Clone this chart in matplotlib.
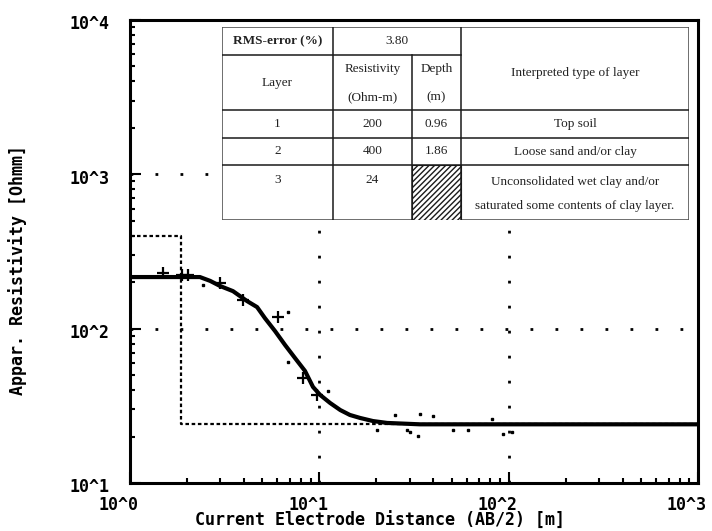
import matplotlib
matplotlib.use("Agg")
import matplotlib.pyplot as plt
from matplotlib.patches import Rectangle

# interpreted layer model (from the table)
layer_res = [200, 400, 24]
layer_depth = [0.96, 1.86]

# calculated sounding curve: AB/2 [m] vs apparent resistivity [Ohm-m]
calc_ab2 = [1.0, 2.34, 2.65, 2.99, 3.50, 4.15, 4.69, 5.16, 5.83, 6.59, 7.44,
            8.40, 9.26, 10.1, 11.4, 12.9, 14.5, 16.4, 19.2, 22.8, 34.0, 100.0, 1000.0]
calc_rho = [216, 216, 204, 189, 175, 151, 138, 117, 96.6, 78.4, 64.5,
            53.2, 41.9, 37.2, 33.0, 29.7, 27.6, 26.4, 25.2, 24.5, 24.0, 24.0, 24.0]

# field measurements
obs_ab2 = [1.49, 1.88, 2.02, 2.99, 3.95, 6.05, 8.20, 9.7]
obs_rho = [229, 223, 223, 198, 153, 119, 47.9, 37.0]

# scattered single readings
dots_ab2 = [2.43, 6.83, 6.83, 11.1, 20.2, 25.1, 29.0, 30.1, 33.2, 34.0,
            39.8, 50.8, 61.0, 81.7, 93.3, 104.0]
dots_rho = [192, 128, 60.8, 39.5, 22.0, 27.6, 22.0, 21.4, 20.2, 27.8,
            27.2, 22.0, 22.0, 26.0, 20.8, 21.4]

x_ticks = [1, 10, 100, 1000]
x_tick_labels = ["10^0", "10^1", "10^2", "10^3"]
y_ticks = [10, 100, 1000, 10000]
y_tick_labels = ["10^1", "10^2", "10^3", "10^4"]

# table contents
rms_label = "RMS-error (%)"
rms_value = "3.80"
layer_ids = ["1", "2", "3"]
layer_desc = ["Top soil", "Loose sand and/or clay",
              "Unconsolidated wet clay and/or\n\nsaturated some contents of clay layer."]

mono = dict(family="DejaVu Sans Mono", weight="bold", size=12)

fig = plt.figure(figsize=(7.12, 5.31), dpi=100)
ax = fig.add_axes([130 / 712, 48 / 531, 568 / 712, 463 / 531])
ax.set_xscale("log")
ax.set_yscale("log")
ax.set_xlim(1, 1000)
ax.set_ylim(10, 10000)

for sp in ax.spines.values():
    sp.set_linewidth(2.2)
ax.tick_params(which="both", direction="in", top=False, right=False,
               labelbottom=False, labelleft=False, width=1.5)
ax.tick_params(which="major", length=8)
ax.tick_params(which="minor", length=3.5)
ax.grid(which="major", ls=(0, (1, 8)), lw=2, color="black")

# model step line
mx = [layer_depth[0], layer_depth[0], layer_depth[1], layer_depth[1], 1000]
my = [layer_res[0], layer_res[1], layer_res[1], layer_res[2], layer_res[2]]
ax.plot(mx, my, color="black", lw=1.6, ls=(0, (1.6, 1.2)))

ax.plot(calc_ab2, calc_rho, color="black", lw=3)
ax.plot(obs_ab2, obs_rho, "+", color="black", ms=9, mew=1.6)
ax.plot(dots_ab2, dots_rho, "s", color="black", ms=2)

for v, t in zip(x_ticks, x_tick_labels):
    ax.annotate(t, xy=(v, 0), xycoords=("data", "axes fraction"),
                xytext=(-8, -15.5), textcoords="offset points",
                ha="center", va="center", **mono)
for v, t in zip(y_ticks, y_tick_labels):
    ax.annotate(t, xy=(0, v), xycoords=("axes fraction", "data"),
                xytext=(-15, -3), textcoords="offset points",
                ha="right", va="center", **mono)

fig.text(380 / 712, 10 / 531, "Current Electrode Distance (AB/2) [m]",
         ha="center", va="center", **mono)
fig.text(18 / 712, 261 / 531, "Appar. Resistivity [Ohmm]",
         ha="center", va="center", rotation=90, **mono)

# interpretation table (pixel layout inside its own axes)
tax = fig.add_axes([222 / 712, (531 - 220) / 531, 467 / 712, 193 / 531])
tax.set_xlim(0, 467)
tax.set_ylim(193, 0)
tax.axis("off")
tax.add_patch(Rectangle((0, 0), 467, 193, facecolor="white", edgecolor="#555555", lw=1.2))
cols = [0, 111, 190, 239, 467]
rows = [0, 28, 83, 111, 138, 193]
lc = "#1a1a1a"
tax.plot([cols[1], cols[1]], [0, 193], color=lc, lw=1.1)
tax.plot([cols[2], cols[2]], [28, 193], color=lc, lw=1.1)
tax.plot([cols[3], cols[3]], [0, 193], color=lc, lw=1.1)
tax.plot([0, cols[3]], [28, 28], color=lc, lw=1.1)
for r in rows[2:5]:
    tax.plot([0, 467], [r, r], color=lc, lw=1.1)
tax.add_patch(Rectangle((cols[2], rows[4]), cols[3] - cols[2], rows[5] - rows[4],
                        facecolor="white", edgecolor=lc, hatch="//////", lw=0.8))

serif = dict(family="Liberation Serif", size=9.5, color="#222222", ha="center", va="center")
c1 = (cols[0] + cols[1]) / 2
c2 = (cols[1] + cols[2]) / 2
c3 = (cols[2] + cols[3]) / 2
c4 = (cols[3] + cols[4]) / 2
tax.text(c1, 14.5, rms_label, weight="bold", **serif)
tax.text((cols[1] + cols[3]) / 2, 14.5, rms_value, **serif)
tax.text(c1, 56, "Layer", **serif)
tax.text(c2, 42, "Resistivity", **serif)
tax.text(c2, 70, "(Ohm-m)", **serif)
tax.text(c3, 42, "Depth", **serif)
tax.text(c3, 70, "(m)", **serif)
tax.text(c4, 46, "Interpreted type of layer", **serif)

row_y = [97, 124.5, 153]
for i in range(3):
    tax.text(c1, row_y[i], layer_ids[i], **serif)
    tax.text(c2, row_y[i], str(layer_res[i]), **serif)
    if i < 2:
        tax.text(c3, row_y[i], f"{layer_depth[i]:.2f}", **serif)
        tax.text(c4, row_y[i], layer_desc[i], **serif)
tax.text(c4, 167, layer_desc[2], linespacing=1.0, **serif)

fig.savefig("out.png", dpi=100)
